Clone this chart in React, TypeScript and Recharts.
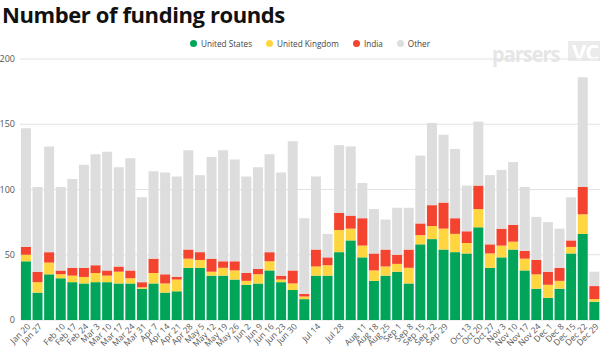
import { BarChart, Bar, XAxis, YAxis, CartesianGrid } from "recharts";

const weeks = [
  "Jan 20", "Jan 27", "Feb 3", "Feb 10", "Feb 17", "Feb 24", "Mar 3", "Mar 10", "Mar 17", "Mar 24",
  "Mar 31", "Apr 7", "Apr 14", "Apr 21", "Apr 28", "May 5", "May 12", "May 19", "May 26", "Jun 2",
  "Jun 9", "Jun 16", "Jun 23", "Jun 30", "Jul 7", "Jul 14", "Jul 21", "Jul 28", "Aug 4", "Aug 11",
  "Aug 18", "Aug 25", "Sep 1", "Sep 8", "Sep 15", "Sep 22", "Sep 29", "Oct 6", "Oct 13", "Oct 20",
  "Oct 27", "Nov 3", "Nov 10", "Nov 17", "Nov 24", "Dec 1", "Dec 8", "Dec 15", "Dec 22", "Dec 29",
];

// labels that the original chart skips because they would overlap
const hiddenLabels = ["Feb 3", "Jul 7", "Jul 21", "Aug 4", "Oct 6"];

const unitedStates = [
  45, 21, 35, 32, 29, 28, 29, 29, 28, 28, 24, 28, 21, 22, 40, 40, 34, 34, 31, 27,
  28, 38, 29, 23, 16, 34, 34, 52, 61, 48, 30, 34, 37, 28, 58, 62, 54, 52, 51, 71,
  40, 48, 54, 38, 24, 17, 24, 51, 66, 14,
];
const unitedKingdom = [
  5, 8, 9, 3, 5, 5, 7, 5, 9, 4, 1, 8, 7, 9, 7, 6, 3, 6, 7, 3,
  7, 7, 2, 5, 2, 7, 8, 17, 9, 9, 8, 7, 6, 12, 7, 10, 16, 14, 8, 14,
  11, 9, 6, 9, 11, 10, 6, 5, 15, 2,
];
const india = [
  6, 8, 8, 3, 6, 7, 6, 4, 4, 6, 4, 11, 7, 2, 7, 6, 10, 5, 7, 6,
  4, 7, 3, 10, 2, 13, 6, 13, 10, 21, 13, 13, 7, 14, 9, 16, 20, 12, 9, 18,
  7, 13, 13, 6, 11, 10, 10, 5, 21, 10,
];
const other = [
  91, 65, 81, 64, 68, 79, 85, 91, 76, 86, 65, 67, 78, 77, 76, 59, 78, 85, 78, 74,
  78, 75, 79, 99, 58, 56, 18, 52, 53, 27, 34, 23, 36, 32, 52, 63, 52, 53, 35, 49,
  53, 45, 48, 49, 33, 38, 30, 33, 84, 11,
];

const yTicks = [0, 50, 100, 150, 200];

const series = [
  { key: "us", name: "United States", color: "#00a55a" },
  { key: "uk", name: "United Kingdom", color: "#ffd640" },
  { key: "india", name: "India", color: "#f4432e" },
  { key: "other", name: "Other", color: "#dddddd" },
];

const data = weeks.map((week, i) => ({
  week,
  us: unitedStates[i],
  uk: unitedKingdom[i],
  india: india[i],
  other: other[i],
}));

const font = "'Open Sans', sans-serif";

function WeekTick(props: any) {
  const { x, y, payload } = props;
  if (hiddenLabels.includes(payload.value)) return <g />;
  return (
    <g transform={`translate(${x + 3},${y - 3})`}>
      <text
        x={0}
        y={0}
        dy="0.35em"
        textAnchor="end"
        transform="rotate(-45)"
        fontSize={8.5}
        fill="#555"
        fontFamily={font}
      >
        {payload.value}
      </text>
    </g>
  );
}

export default function App() {
  return (
    <div
      style={{
        position: "absolute",
        left: 0,
        top: 0,
        width: 600,
        height: 350,
        background: "#fff",
        fontFamily: font,
        overflow: "hidden",
      }}
    >
      <div
        style={{
          position: "absolute",
          left: 2,
          top: -1,
          fontSize: 22,
          fontWeight: 700,
          letterSpacing: -0.4,
          color: "#111",
          whiteSpace: "nowrap",
        }}
      >
        Number of funding rounds
      </div>

      <div
        style={{
          position: "absolute",
          left: 492,
          top: 38,
          color: "#e6e6e6",
          fontWeight: 700,
          fontSize: 22,
          letterSpacing: -1,
          whiteSpace: "nowrap",
        }}
      >
        <span style={{ display: "inline-block", transform: "scaleX(0.9)", transformOrigin: "left" }}>
          parsers
        </span>
        <span
          style={{
            position: "absolute",
            left: 76,
            top: 3,
            background: "#ebebeb",
            color: "#fff",
            padding: "0 4px",
            lineHeight: "20px",
          }}
        >
          VC
        </span>
      </div>

      <div
        style={{
          position: "absolute",
          top: 38,
          left: 190,
          display: "flex",
          gap: 14,
          fontSize: 8.2,
          color: "#444",
          whiteSpace: "nowrap",
        }}
      >
        {series.map((s) => (
          <div key={s.key} style={{ display: "flex", alignItems: "center", gap: 4 }}>
            <span
              style={{
                width: 7,
                height: 7,
                borderRadius: "50%",
                background: s.color,
                display: "inline-block",
              }}
            />
            <span>{s.name}</span>
          </div>
        ))}
      </div>

      <div style={{ position: "absolute", left: 0, top: 0 }}>
        <BarChart
          width={600}
          height={350}
          data={data}
          margin={{ top: 59, right: 0, left: 0, bottom: 0 }}
          barCategoryGap="8%"
        >
          <CartesianGrid vertical={false} stroke="#e2e2e2" />
          <XAxis
            dataKey="week"
            interval={0}
            height={30}
            tick={<WeekTick />}
            tickLine={false}
            axisLine={false}
          />
          <YAxis
            width={20}
            domain={[0, 200]}
            ticks={yTicks}
            tick={{ fontSize: 9, fill: "#555", fontFamily: font }}
            tickSize={0}
            tickMargin={5}
            axisLine={false}
            tickLine={false}
          />
          {series.map((s) => (
            <Bar
              key={s.key}
              dataKey={s.key}
              name={s.name}
              stackId="a"
              fill={s.color}
              isAnimationActive={false}
            />
          ))}
        </BarChart>
      </div>
    </div>
  );
}
